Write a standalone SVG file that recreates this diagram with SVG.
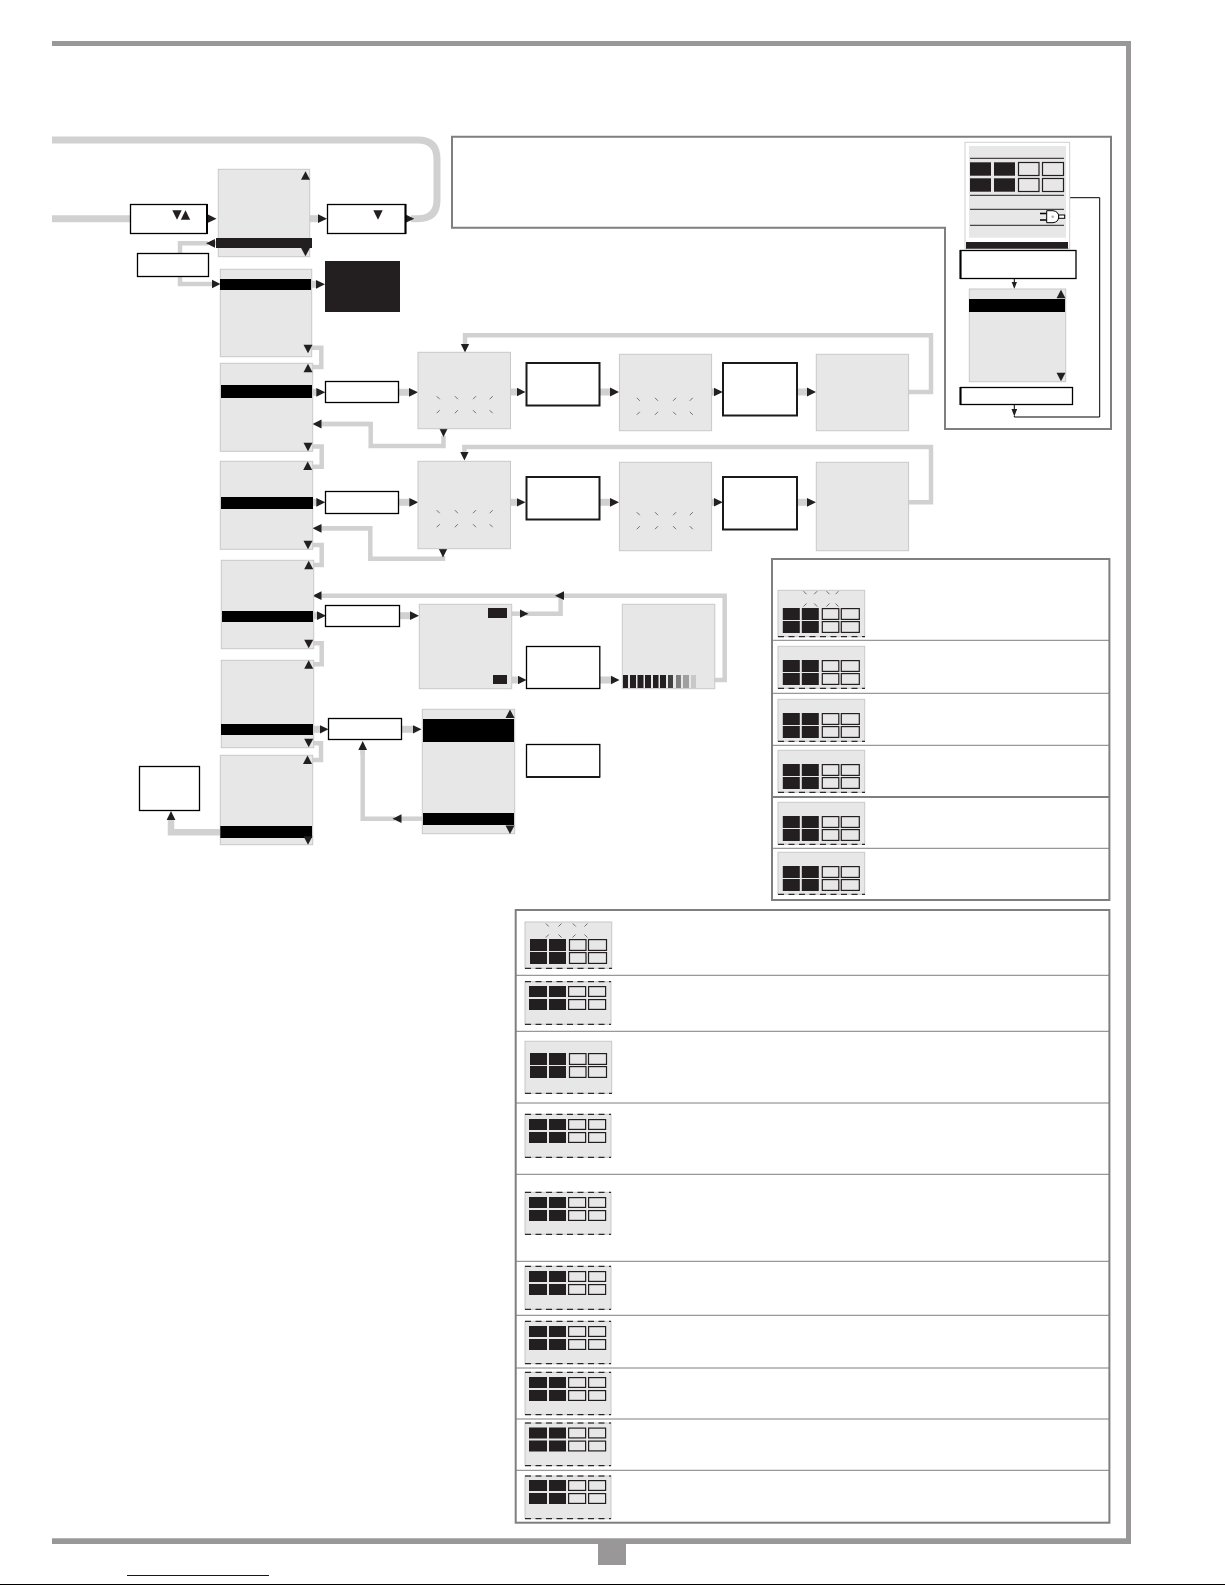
<svg xmlns="http://www.w3.org/2000/svg" xmlns:xlink="http://www.w3.org/1999/xlink" width="1225" height="1585" viewBox="0 0 1225 1585">
<style>
.c{fill:none;stroke:#d1d1d1;stroke-width:4.5}
.w{stroke-width:7}
.a{marker-end:url(#h)}
.t{fill:none;stroke:#000;stroke-width:1}
.ta{marker-end:url(#h2)}
.s{fill:#e7e7e7;stroke:#c8c8c8;stroke-width:1}
.b{fill:#fff;stroke:#000;stroke-width:1.3}
.b2{fill:#fff;stroke:#1a1a1a;stroke-width:2}
.k{fill:#000}
.d{fill:#231f20}
.o{fill:#e7e7e7;stroke:#231f20;stroke-width:1.2}
.p{fill:none;stroke:#7f7f7f;stroke-width:2}
.sep{stroke:#7f7f7f;stroke-width:1}
.da{stroke:#000;stroke-width:1;stroke-dasharray:6 4.5}
.sp{stroke:#707070;stroke-width:1}
.l{stroke:#231f20;stroke-width:1}
.fr{fill:#999797}
</style>
<defs>
<marker id="h" markerUnits="userSpaceOnUse" markerWidth="10" markerHeight="10" viewBox="0 0 10 10" refX="0.5" refY="5" orient="auto"><polygon points="0,.6 9,5 0,9.400" fill="#231f20"/></marker>
<marker id="h2" markerUnits="userSpaceOnUse" markerWidth="8" markerHeight="6" viewBox="0 0 8 6" refX="0.5" refY="3" orient="auto"><polygon points="0,.2 7.500,3 0,5.800" fill="#231f20"/></marker>
<polygon id="u" points="-4.500,4.300 4.500,4.300 0,-4.300" fill="#231f20"/>
<polygon id="n" points="-4.500,-4.300 4.500,-4.300 0,4.300" fill="#231f20"/>
<polygon id="ub" points="-4.700,4.700 4.700,4.700 0,-4.700" fill="#231f20"/>
<polygon id="nb" points="-4.700,-4.700 4.700,-4.700 0,4.700" fill="#231f20"/>
<g id="cells">
<rect class="d" x="0" y="0" width="17" height="12"/><rect class="d" x="19" y="0" width="17" height="12"/>
<rect class="o" x="39.500" y=".6" width="16.500" height="10.800"/><rect class="o" x="58.500" y=".6" width="18" height="10.800"/>
<rect class="d" x="0" y="13" width="17" height="12"/><rect class="d" x="19" y="13" width="17" height="12"/>
<rect class="o" x="39.500" y="13.600" width="16.500" height="10.800"/><rect class="o" x="58.500" y="13.600" width="18" height="10.800"/>
</g>
<g id="cells2">
<rect class="d" x="0" y="0" width="18" height="11"/><rect class="d" x="20" y="0" width="17" height="11"/>
<rect class="o" x="39.600" y=".6" width="17" height="9.800"/><rect class="o" x="59.600" y=".6" width="17" height="9.800"/>
<rect class="d" x="0" y="13" width="18" height="11"/><rect class="d" x="20" y="13" width="17" height="11"/>
<rect class="o" x="39.600" y="13.600" width="17" height="9.800"/><rect class="o" x="59.600" y="13.600" width="17" height="9.800"/>
</g>
<g id="sparks" class="sp">
<path d="M-1.500-1.500l3 3M16.700-1.500l3 3M37.800-1.500l-3 3M54.500-1.500l-3 3M1.500 12.500l-3 3M19.700 12.500l-3 3M34.800 12.500l3 3M51.500 12.500l3 3"/>
</g>
<g id="sr" class="sp">
<path d="M-1.500-1.500l3 3M12.200-1.500l-3 3M21.500-1.500l3 3M33.500-1.500l-3 3M1.500 10.800l-3 3M9.200 10.800l3 3M24.500 10.800l-3 3M30.500 10.800l3 3"/>
</g>
<g id="sb" class="sp">
<path d="M-1.500-1.500l3 3M14.200-1.500l-3 3M25.500-1.500l3 3M40.200-1.500l-3 3M1.500 9.500l-3 3M11.200 9.500l3 3M28.200 9.500l-3 3M37.200 9.500l3 3"/>
</g>
</defs>
<g id="frame">
<rect class="fr" x="52" y="41" width="1079" height="5"/>
<rect class="fr" x="1126" y="41" width="5" height="1503"/>
<rect class="fr" x="52" y="1538.300" width="1079" height="5.700"/>
<rect class="fr" x="598" y="1544" width="28" height="21"/>
<path d="M127 1575.500H269" stroke="#0000cc" stroke-width="1"/>
<path d="M0 1584.500H1225" stroke="#000" stroke-width="1"/>
</g>
<g id="connectors">
<path class="c w" d="M52 140H418Q437 140 437 159V200Q437 218.700 418 218.700H411"/>
<path class="c w" d="M52 218.700H131"/>
<path class="c w a" d="M200 218.700H208"/>
<path class="c w a" d="M310 218.700H318.500"/>
<path class="c w a" d="M400 218.700H405.700"/>
<path class="c" d="M208 243.300H180V284H212" style="marker-end:url(#h)"/>
<path class="c a" d="M216 243.300H214.500"/>
<path class="c w a" d="M311 284.300H316.500"/>
<path class="c" d="M312 347.700H321.300V367H313"/>
<path class="c w a" d="M312 392.300H316.800"/>
<path class="c w a" d="M399 392.300H409.500"/>
<path class="c" d="M443.500 436V446H370.700V424H321"/>
<path class="c a" d="M443.500 425V428.500"/>
<path class="c a" d="M370 424H321"/>
<path class="c w a" d="M510 392H517"/>
<path class="c w a" d="M600 392H610.500"/>
<path class="c w a" d="M712 392H714.300"/>
<path class="c w a" d="M797 392H807.500"/>
<path class="c a" d="M908 392H931V335.300H465V344"/>
<path class="c" d="M313 446.500H321.700V466.700H313"/>
<path class="c w a" d="M313 502.300H316.800"/>
<path class="c w a" d="M399 502.300H409.800"/>
<path class="c" d="M443 556V558.700H370.300V528.300H321"/>
<path class="c a" d="M443 545V549"/>
<path class="c a" d="M370 528.300H321"/>
<path class="c w a" d="M510 502.300H517"/>
<path class="c w a" d="M600 502.300H610.500"/>
<path class="c w a" d="M712 502.300H714.300"/>
<path class="c w a" d="M797 502.300H807.500"/>
<path class="c a" d="M908 502.300H931V447H464.400V452"/>
<path class="c" d="M313 545H321.700V565H314"/>
<path class="c w a" d="M314 615.700H317.500"/>
<path class="c w a" d="M400 615.700H410.500"/>
<path class="c" d="M526 613.700H560.600V595.700"/>
<path class="c a" d="M714.500 680H724.700V595.700H321"/>
<path class="c a" d="M566 595.700H563.500"/>
<path class="c a" d="M512 613.700H520"/>
<path class="c w a" d="M512 680H518"/>
<path class="c w a" d="M600 680H611"/>
<path class="c" d="M314 643.300H321.700V664.300H314"/>
<path class="c w a" d="M314 729.300H320"/>
<path class="c w a" d="M402 729.300H413"/>
<path class="c" d="M395 818.700H362.700V750"/>
<path class="c a" d="M422 818.700H401"/>
<path class="c a" d="M362.700 755V749.500"/>
<path class="c" d="M314 743.300H321V760H313"/>
<path class="c a" style="stroke-width:6.500" d="M220 832.300H171V819.500"/>
<path class="t ta" d="M1014.300 278V282"/>
<path class="t ta" d="M1014.300 405V409.500"/>
<path class="t" d="M1014.300 416V417H1099.700V197.700H1070"/>
</g>
<g id="box-a"><rect class="b" x="130.500" y="204.500" width="76.500" height="29"/><path d="M207 204V234" stroke="#000" stroke-width="2"/><use href="#nb" x="177" y="215"/><use href="#ub" x="185.500" y="215"/></g>
<g id="screen-1"><rect class="s" x="218.300" y="169.300" width="91.400" height="87.400"/><rect class="d" x="216" y="238" width="96" height="10"/><use href="#u" x="305.500" y="175.500"/><use href="#n" x="305.500" y="252"/></g>
<g id="box-b"><rect class="b" x="327.500" y="204.500" width="78" height="29"/><path d="M405.500 204V234" stroke="#000" stroke-width="2"/><use href="#nb" x="378" y="215"/></g>
<g id="box-c"><rect class="b" x="137.500" y="253.500" width="71" height="23"/></g>
<g id="screen-2"><rect class="s" x="220.300" y="269.300" width="91.400" height="87.400"/><rect class="k" x="220" y="279" width="91" height="11"/><use href="#n" x="308" y="349"/></g>
<g id="black-box"><rect class="d" x="325" y="261" width="75" height="51"/></g>
<g id="screen-3"><rect class="s" x="220.300" y="363.300" width="92.400" height="88"/><rect class="k" x="221" y="385" width="91" height="13"/><use href="#u" x="308" y="368"/><use href="#n" x="308" y="447"/></g>
<g id="box-d"><rect class="b" x="325.500" y="381.500" width="73" height="21"/></g>
<g id="l1"><rect class="s" x="418" y="352.300" width="92.500" height="76.400"/><use href="#sparks" x="438.200" y="397.700"/></g>
<g id="e1"><rect class="b2" x="526.500" y="363" width="73" height="42.500"/></g>
<g id="l2"><rect class="s" x="619.400" y="354.300" width="92.200" height="76.400"/><use href="#sparks" x="638.300" y="399.300"/></g>
<g id="e2"><rect class="b2" x="723" y="363" width="74" height="52.500"/></g>
<g id="l3"><rect class="s" x="816.300" y="354.300" width="92.300" height="76.400"/></g>
<g id="screen-4"><rect class="s" x="220.300" y="461.300" width="92.400" height="88"/><rect class="k" x="221" y="497" width="92" height="12"/><use href="#u" x="307.700" y="465.700"/><use href="#n" x="308" y="545"/></g>
<g id="box-d2"><rect class="b" x="325.500" y="491.500" width="73" height="22"/></g>
<g id="m1"><rect class="s" x="418" y="461.300" width="92.500" height="87.400"/><use href="#sparks" x="438.200" y="511.700"/></g>
<g id="f1"><rect class="b2" x="526.500" y="477" width="73" height="42.500"/></g>
<g id="m2"><rect class="s" x="619.400" y="462.300" width="92.200" height="88.400"/><use href="#sparks" x="638.300" y="513.700"/></g>
<g id="f2"><rect class="b2" x="723" y="477" width="74" height="52.500"/></g>
<g id="m3"><rect class="s" x="816.300" y="462.300" width="92.300" height="88.400"/></g>
<g id="screen-5"><rect class="s" x="221.300" y="560.300" width="92.400" height="88.400"/><rect class="k" x="222" y="611" width="91" height="11"/><use href="#u" x="308.700" y="565"/><use href="#n" x="308.700" y="644"/></g>
<g id="box-e"><rect class="b" x="325.500" y="605.500" width="74" height="21"/></g>
<g id="screen-m"><rect class="s" x="419.300" y="604.300" width="92.400" height="84.400"/><rect class="d" x="488" y="608" width="19" height="10"/><rect class="d" x="493" y="675" width="14" height="9"/></g>
<g id="box-f"><rect class="b" x="526.500" y="646.500" width="73.300" height="42"/></g>
<g id="screen-n"><rect class="s" x="622.300" y="604.300" width="92.500" height="84.400"/>
<g class="d"><rect x="623" y="675" width="5" height="13"/><rect x="630" y="675" width="6" height="13"/><rect x="637.500" y="675" width="6" height="13"/><rect x="645" y="675" width="6" height="13"/><rect x="653" y="675" width="5.500" height="13"/><rect x="660" y="675" width="6" height="13"/></g>
<rect x="668" y="675" width="5" height="13" fill="#414042"/><rect x="676" y="675" width="5" height="13" fill="#808080"/><rect x="683" y="675" width="6" height="13" fill="#a0a0a0"/><rect x="691" y="675" width="5" height="13" fill="#c8c8c8"/></g>
<g id="screen-6"><rect class="s" x="221.300" y="660.300" width="92.400" height="87.400"/><rect class="k" x="221" y="724" width="92" height="11"/><use href="#u" x="308.700" y="664.500"/><use href="#n" x="308.700" y="743"/></g>
<g id="box-h"><rect class="b" x="328.500" y="718.500" width="73" height="21"/></g>
<g id="screen-7"><rect class="s" x="422.300" y="709.300" width="92.400" height="124.400"/><rect class="k" x="423" y="719" width="91" height="23"/><rect class="k" x="423" y="813" width="91" height="12"/><use href="#u" x="510" y="713.700"/><use href="#n" x="510" y="829.700"/></g>
<g id="box-g"><rect class="b" x="526.500" y="744.500" width="73.300" height="32.500"/><path d="M526 777H600" stroke="#1a1a1a" stroke-width="2"/></g>
<g id="screen-8"><rect class="s" x="220.300" y="755.300" width="92.400" height="89.400"/><rect class="k" x="220.300" y="826" width="91.700" height="12"/><use href="#u" x="307.500" y="759.700"/><use href="#n" x="308" y="840.500"/></g>
<g id="box-i"><rect class="b" x="139.500" y="766.500" width="60" height="44"/></g>
<g id="panel-top"><path class="p" d="M452 136.700H1111V429H945V227.700H452Z"/></g>
<g id="display">
<rect x="965" y="142.300" width="104.700" height="106.400" fill="#fff" stroke="#d0d0d0" stroke-width="1"/>
<rect x="969" y="146" width="97" height="91.700" fill="#e7e7e7"/>
<rect class="d" x="966" y="242" width="102" height="6.700"/>
<path class="l" d="M970 158.300H1064M970 195.300H1064M970 209.300H1064M970 225.300H1064"/>
<rect class="d" x="970" y="162.300" width="21" height="13.400"/><rect class="d" x="994" y="162.300" width="21" height="13.400"/>
<rect class="o" x="1018.500" y="162.500" width="20.500" height="13"/><rect class="o" x="1042.500" y="162.500" width="21" height="13"/>
<rect class="d" x="970" y="178.300" width="21" height="13.400"/><rect class="d" x="994" y="178.300" width="21" height="13.400"/>
<rect class="o" x="1018.500" y="178.500" width="20.500" height="13"/><rect class="o" x="1042.500" y="178.500" width="21" height="13"/>
<path d="M1040 213.500H1046.700M1040 220H1046.700" stroke="#000" stroke-width="1.600"/>
<path d="M1046.700 210.700H1053Q1058.700 211.500 1058.700 216.700Q1058.700 222 1053 222.700H1046.700Z" fill="#fff" stroke="#000" stroke-width="1"/>
<rect x="1058.700" y="215" width="6" height="3.300" fill="#fff" stroke="#000" stroke-width="1"/>
<circle cx="1052.700" cy="216.700" r="1.300" fill="#b0b0b0"/>
</g>
<g id="box-j"><rect class="b" x="960.500" y="250.500" width="115.500" height="28"/><path d="M960.500 250V279" stroke="#000" stroke-width="2"/></g>
<g id="screen-k"><rect class="s" x="969.300" y="289" width="96.400" height="92.700"/><rect class="k" x="969" y="299" width="96" height="13"/><use href="#u" x="1061" y="294"/><use href="#n" x="1061" y="377"/></g>
<g id="box-l"><rect class="b" x="960.500" y="387.500" width="112" height="17"/><path d="M960.500 387V405" stroke="#000" stroke-width="2"/></g>
<g id="panel-right">
<rect class="p" x="772" y="559" width="337.400" height="341"/>
<path class="sep" d="M772 640.300H1109M772 693.300H1109M772 745.300H1109M772 848.300H1109"/>
<path class="sep" style="stroke-width:2" d="M772 797H1109"/>
</g>
<g id="r1"><rect class="s" x="778" y="590.300" width="86.700" height="46.400"/><use href="#sr" x="805" y="592.700"/><use href="#cells" x="782.800" y="608"/><path class="da" d="M778 636.700H865"/></g>
<g id="r2"><rect class="s" x="778" y="646.300" width="86.700" height="42"/><use href="#cells" x="782.800" y="660"/><path class="da" d="M778 688.300H865"/></g>
<g id="r3"><rect class="s" x="778" y="699.300" width="86.700" height="42"/><use href="#cells" x="782.800" y="713"/><path class="da" d="M778 741.300H865"/></g>
<g id="r4"><rect class="s" x="778" y="750.300" width="86.700" height="42"/><use href="#cells" x="782.800" y="764"/><path class="da" d="M778 792.300H865"/></g>
<g id="r5"><rect class="s" x="778" y="802.300" width="86.700" height="42"/><use href="#cells" x="782.800" y="816"/><path class="da" d="M778 844.300H865"/></g>
<g id="r6"><rect class="s" x="778" y="852.300" width="86.700" height="42"/><use href="#cells" x="782.800" y="866"/><path class="da" d="M778 894.300H865"/></g>
<g id="panel-bottom">
<rect class="p" x="515.700" y="910" width="593.700" height="612.700"/>
<path class="sep" d="M516 975.300H1109M516 1031.300H1109M516 1103H1109M516 1174.300H1109M516 1261.300H1109M516 1315.300H1109M516 1368H1109M516 1419H1109M516 1470.300H1109"/>
</g>
<g id="b1"><rect class="s" x="525" y="922" width="86.700" height="46.300"/><use href="#sb" x="547.300" y="925"/><use href="#cells" x="530" y="939"/><path class="da" d="M525 968.300H612"/></g>
<g id="b2"><rect class="s" x="525" y="981.700" width="86" height="42.600"/><use href="#cells2" x="529" y="986"/><path class="da" d="M525 981.700H611M525 1024.300H611"/></g>
<g id="b3"><rect class="s" x="525" y="1041.300" width="86.700" height="52"/><use href="#cells" x="530" y="1053"/><path class="da" d="M525 1093.300H612"/></g>
<g id="b4"><rect class="s" x="525" y="1114.300" width="86" height="43"/><use href="#cells2" x="529" y="1119"/><path class="da" d="M525 1114.300H611M525 1157.300H611"/></g>
<g id="b5"><rect class="s" x="525" y="1192.300" width="86" height="42"/><use href="#cells2" x="529" y="1197"/><path class="da" d="M525 1192.300H611M525 1234.300H611"/></g>
<g id="b6"><rect class="s" x="525" y="1266.300" width="86" height="43"/><use href="#cells2" x="529" y="1271"/><path class="da" d="M525 1266.300H611M525 1309.300H611"/></g>
<g id="b7"><rect class="s" x="525" y="1321.300" width="86" height="42.400"/><use href="#cells2" x="529" y="1326"/><path class="da" d="M525 1321.300H611M525 1363.700H611"/></g>
<g id="b8"><rect class="s" x="525" y="1372.300" width="86" height="42.400"/><use href="#cells2" x="529" y="1377"/><path class="da" d="M525 1372.300H611M525 1414.700H611"/></g>
<g id="b9"><rect class="s" x="525" y="1423" width="86" height="42.700"/><use href="#cells2" x="529" y="1427.500"/><path class="da" d="M525 1423H611M525 1465.700H611"/></g>
<g id="b10"><rect class="s" x="525" y="1476" width="86" height="42.700"/><use href="#cells2" x="529" y="1480"/><path class="da" d="M525 1476H611M525 1518.700H611"/></g>
</svg>
